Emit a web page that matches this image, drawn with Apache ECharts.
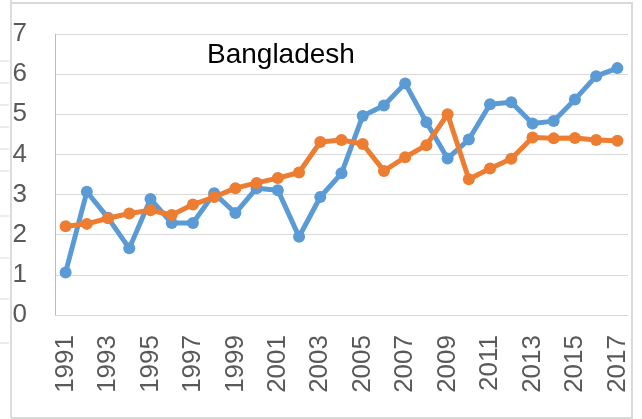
<!DOCTYPE html>
<html>
<head>
<meta charset="utf-8">
<script src="https://cdn.jsdelivr.net/npm/echarts@6/dist/echarts.min.js"></script>
<style>
  html, body { margin: 0; padding: 0; background: #fff; }
  #chart { width: 642px; height: 419px; }
</style>
</head>
<body>
<div id="chart"></div>
<script>
// years on the category axis
var years = [];
for (var y = 1991; y <= 2017; y++) years.push(String(y));

// values
var blueVals = [1.06, 3.07, 2.42, 1.66, 2.89, 2.29, 2.29, 3.03, 2.54, 3.16, 3.11, 1.95, 2.94, 3.53,
  4.96, 5.22, 5.77, 4.8, 3.9, 4.37, 5.25, 5.3, 4.77, 4.83, 5.37, 5.95, 6.15];
var orangeVals = [2.21, 2.27, 2.41, 2.53, 2.61, 2.49, 2.75, 2.94, 3.16, 3.29, 3.41, 3.55, 4.31, 4.36,
  4.26, 3.59, 3.93, 4.23, 5.0, 3.38, 3.65, 3.89, 4.42, 4.4, 4.41, 4.36, 4.34];

var font = '"Liberation Sans", Arial, sans-serif';

// bits of the neighbouring chart frame at the left edge
var stubs = [61, 83, 105, 127, 149, 171, 216, 258, 299, 343];
var frame = [
  { type: 'line', shape: { x1: 11, y1: 0, x2: 11, y2: 418 }, style: { stroke: '#dcdcdc', lineWidth: 2 } },
  { type: 'line', shape: { x1: 11, y1: 3, x2: 633, y2: 3 }, style: { stroke: '#d9d9d9', lineWidth: 2 } },
  { type: 'line', shape: { x1: 632, y1: 3, x2: 632, y2: 418 }, style: { stroke: '#d9d9d9', lineWidth: 2 } },
  { type: 'line', shape: { x1: 11, y1: 418, x2: 633, y2: 418 }, style: { stroke: '#d9d9d9', lineWidth: 2 } }
];
stubs.forEach(function (sy) {
  frame.push({ type: 'line', shape: { x1: 0, y1: sy, x2: 9, y2: sy }, style: { stroke: '#d9d9d9', lineWidth: 1 } });
});

var chart = echarts.init(document.getElementById('chart'), null, { renderer: 'canvas' });
chart.setOption({
  animation: false,
  backgroundColor: '#fff',
  title: {
    text: 'Bangladesh',
    left: 202,
    top: 36,
    textStyle: { fontFamily: font, fontSize: 28, fontWeight: 'normal', color: '#000' }
  },
  graphic: frame,
  grid: { left: 55, right: 14, top: 34, bottom: 104 },
  xAxis: {
    type: 'category',
    data: years,
    boundaryGap: true,
    axisLine: { lineStyle: { color: '#d9d9d9', width: 1 } },
    axisTick: { show: false },
    axisLabel: {
      interval: 1,
      rotate: 90,
      margin: 20,
      fontFamily: font,
      fontSize: 26,
      color: '#595959'
    }
  },
  yAxis: {
    type: 'value',
    min: 0,
    max: 7,
    interval: 1,
    axisLine: { show: true, lineStyle: { color: '#9dc3e6', width: 1 } },
    axisTick: { show: false },
    splitLine: { lineStyle: { color: '#d9d9d9', width: 1 } },
    axisLabel: { margin: 28, fontFamily: font, fontSize: 26, color: '#595959' }
  },
  series: [
    {
      name: 'Series 1',
      type: 'line',
      data: blueVals,
      symbol: 'circle',
      symbolSize: 12,
      lineStyle: { color: '#5b9bd5', width: 5 },
      itemStyle: { color: '#5b9bd5' }
    },
    {
      name: 'Series 2',
      type: 'line',
      data: orangeVals,
      symbol: 'circle',
      symbolSize: 12,
      lineStyle: { color: '#ed7d31', width: 5 },
      itemStyle: { color: '#ed7d31' }
    }
  ]
});
</script>
</body>
</html>
